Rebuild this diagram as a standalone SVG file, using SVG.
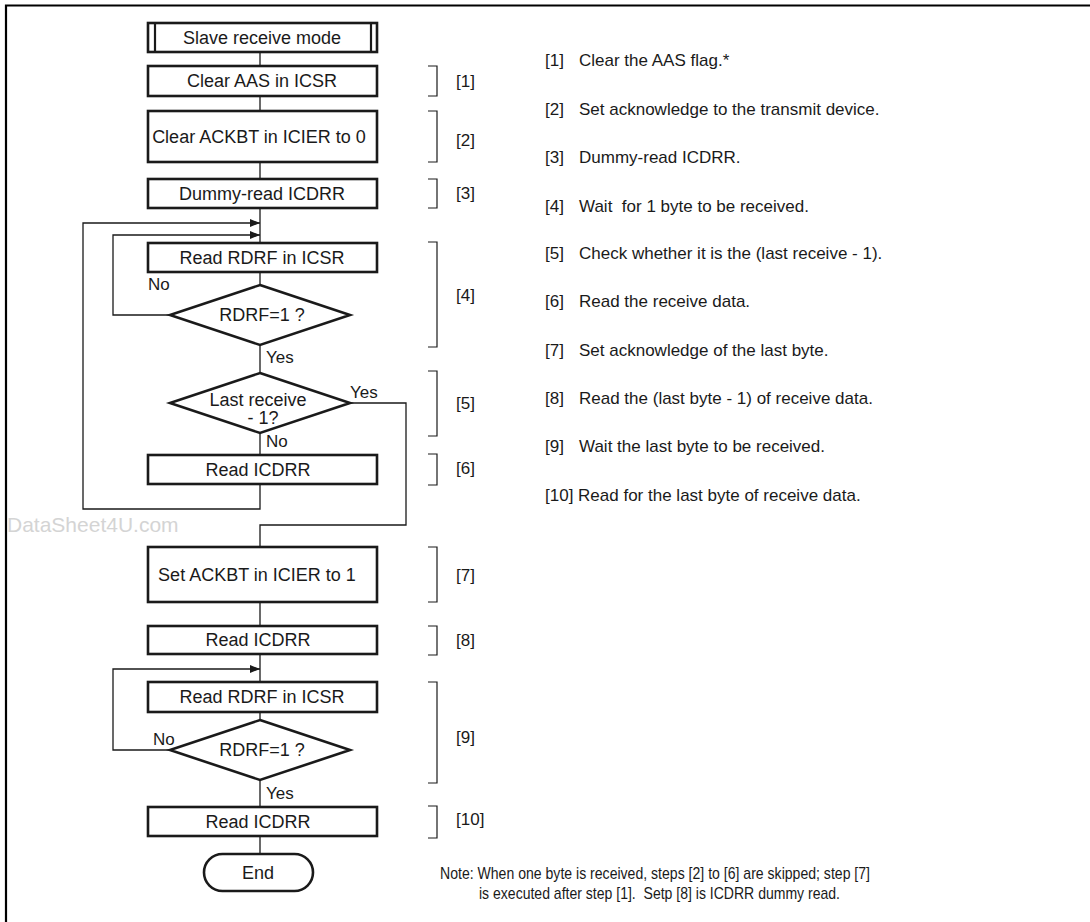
<svg xmlns="http://www.w3.org/2000/svg" width="1090" height="922" viewBox="0 0 1090 922">
<style>
.box{fill:#fff;stroke:#1a1a1a;stroke-width:2.6}
.dia{fill:#fff;stroke:#1a1a1a;stroke-width:2.6;stroke-linejoin:miter}
.ln{fill:none;stroke:#1a1a1a;stroke-width:1.3}
.br{fill:none;stroke:#1a1a1a;stroke-width:1.2}
.t{font-family:"Liberation Sans",Arial,sans-serif;font-size:18px;fill:#1a1a1a;text-anchor:middle}
.s{font-family:"Liberation Sans",Arial,sans-serif;font-size:17px;fill:#1a1a1a}
.n{font-family:"Liberation Sans",Arial,sans-serif;font-size:17px;fill:#1a1a1a}
</style>
<defs>
<marker id="arr" markerWidth="10" markerHeight="8" refX="10" refY="4" orient="auto" markerUnits="userSpaceOnUse">
<path d="M0,0 L10,4 L0,8 Z" fill="#1a1a1a"/>
</marker>
</defs>
<rect width="1090" height="922" fill="#fff"/>
<path d="M6,922 V5.5 H1090" fill="none" stroke="#000" stroke-width="2.2"/>
<text x="7" y="532" font-family="'Liberation Sans',Arial,sans-serif" font-size="21" fill="#d4d4d4">DataSheet4U.com</text>

<g id="connectors">
<path class="ln" d="M260,52 V66"/>
<path class="ln" d="M260,96 V111"/>
<path class="ln" d="M260,162 V179"/>
<path class="ln" d="M260,208 V243"/>
<path class="ln" d="M260,484 V509 H83 V223 H260" marker-end="url(#arr)"/>
<path class="ln" d="M170,315 H113 V235 H260" marker-end="url(#arr)"/>
<path class="ln" d="M260,272 V285"/>
<path class="ln" d="M260,345 V373"/>
<path class="ln" d="M260,433 V455"/>
<path class="ln" d="M350,403 H406 V525 H260 V547"/>
<path class="ln" d="M260,602 V626"/>
<path class="ln" d="M260,654 V682"/>
<path class="ln" d="M170,750 H113 V669 H260" marker-end="url(#arr)"/>
<path class="ln" d="M260,712 V720"/>
<path class="ln" d="M260,780 V807"/>
<path class="ln" d="M260,836 V854"/>
</g>

<g id="n-start">
<rect class="box" x="148" y="23" width="229" height="29"/>
<path d="M155,23 V52 M371,23 V52" stroke="#1a1a1a" stroke-width="2.2"/>
<text class="t" x="262" y="44">Slave receive mode</text>
</g>
<g id="n-clear-aas">
<rect class="box" x="148" y="66" width="229" height="30"/>
<text class="t" x="262" y="87">Clear AAS in ICSR</text>
</g>
<g id="n-clear-ackbt">
<rect class="box" x="148" y="111" width="229" height="51"/>
<text class="t" x="259" y="143">Clear ACKBT in ICIER to 0</text>
</g>
<g id="n-dummy">
<rect class="box" x="148" y="179" width="229" height="29"/>
<text class="t" x="262" y="200">Dummy-read ICDRR</text>
</g>
<g id="n-rdrf1">
<rect class="box" x="148" y="243" width="229" height="29"/>
<text class="t" x="262" y="264">Read RDRF in ICSR</text>
</g>
<g id="n-dec1">
<polygon class="dia" points="260,285 350,315 260,345 170,315"/>
<text class="t" x="262" y="321">RDRF=1 ?</text>
</g>
<g id="n-dec2">
<polygon class="dia" points="260,373 350,403 260,433 170,403"/>
<text class="t" x="258" y="406" font-size="13.5">Last receive</text>
<text class="t" x="263" y="424" font-size="13.5">- 1?</text>
</g>
<g id="n-read6">
<rect class="box" x="148" y="455" width="229" height="29"/>
<text class="t" x="258" y="476">Read ICDRR</text>
</g>
<g id="n-set-ackbt">
<rect class="box" x="148" y="547" width="229" height="55"/>
<text class="t" x="257" y="581">Set ACKBT in ICIER to 1</text>
</g>
<g id="n-read8">
<rect class="box" x="148" y="626" width="229" height="28"/>
<text class="t" x="258" y="646">Read ICDRR</text>
</g>
<g id="n-rdrf2">
<rect class="box" x="148" y="682" width="229" height="30"/>
<text class="t" x="262" y="703">Read RDRF in ICSR</text>
</g>
<g id="n-dec3">
<polygon class="dia" points="260,720 350,750 260,780 170,750"/>
<text class="t" x="262" y="756">RDRF=1 ?</text>
</g>
<g id="n-read10">
<rect class="box" x="148" y="807" width="229" height="29"/>
<text class="t" x="258" y="828">Read ICDRR</text>
</g>
<g id="n-end">
<rect class="box" x="204" y="854" width="109" height="37" rx="18.5" ry="18.5"/>
<text class="t" x="258" y="879">End</text>
</g>

<g id="branch-labels" class="s">
<text x="148" y="290">No</text>
<text x="266" y="363">Yes</text>
<text x="350" y="398">Yes</text>
<text x="266" y="447">No</text>
<text x="153" y="745">No</text>
<text x="266" y="799">Yes</text>
</g>

<g id="brackets">
<path class="br" d="M428,66 H437 V96 H428"/>
<path class="br" d="M428,111 H437 V162 H428"/>
<path class="br" d="M428,179 H437 V208 H428"/>
<path class="br" d="M428,242 H437 V347 H428"/>
<path class="br" d="M428,371 H437 V436 H428"/>
<path class="br" d="M428,454 H437 V485 H428"/>
<path class="br" d="M428,547 H437 V602 H428"/>
<path class="br" d="M428,626 H437 V655 H428"/>
<path class="br" d="M428,682 H437 V783 H428"/>
<path class="br" d="M428,806 H437 V838 H428"/>
<g class="s">
<text x="456" y="87">[1]</text>
<text x="456" y="146">[2]</text>
<text x="456" y="199">[3]</text>
<text x="456" y="301">[4]</text>
<text x="456" y="409">[5]</text>
<text x="456" y="474">[6]</text>
<text x="456" y="581">[7]</text>
<text x="456" y="646">[8]</text>
<text x="456" y="743">[9]</text>
<text x="456" y="825">[10]</text>
</g>
</g>

<g id="legend" class="s">
<text x="545" y="66">[1]</text><text x="579" y="66">Clear the AAS flag.*</text>
<text x="545" y="115">[2]</text><text x="579" y="115">Set acknowledge to the transmit device.</text>
<text x="545" y="163">[3]</text><text x="579" y="163">Dummy-read ICDRR.</text>
<text x="545" y="212">[4]</text><text x="579" y="212" xml:space="preserve">Wait  for 1 byte to be received.</text>
<text x="545" y="259">[5]</text><text x="579" y="259">Check whether it is the (last receive - 1).</text>
<text x="545" y="307">[6]</text><text x="579" y="307">Read the receive data.</text>
<text x="545" y="356">[7]</text><text x="579" y="356">Set acknowledge of the last byte.</text>
<text x="545" y="404">[8]</text><text x="579" y="404">Read the (last byte - 1) of receive data.</text>
<text x="545" y="452">[9]</text><text x="579" y="452">Wait the last byte to be received.</text>
<text x="545" y="501">[10] Read for the last byte of receive data.</text>
</g>

<g id="note" class="n">
<text x="440" y="879" textLength="430" lengthAdjust="spacingAndGlyphs">Note: When one byte is received, steps [2] to [6] are skipped; step [7]</text>
<text x="479" y="899" textLength="361" lengthAdjust="spacingAndGlyphs" xml:space="preserve">is executed after step [1].  Setp [8] is ICDRR dummy read.</text>
</g>
</svg>
